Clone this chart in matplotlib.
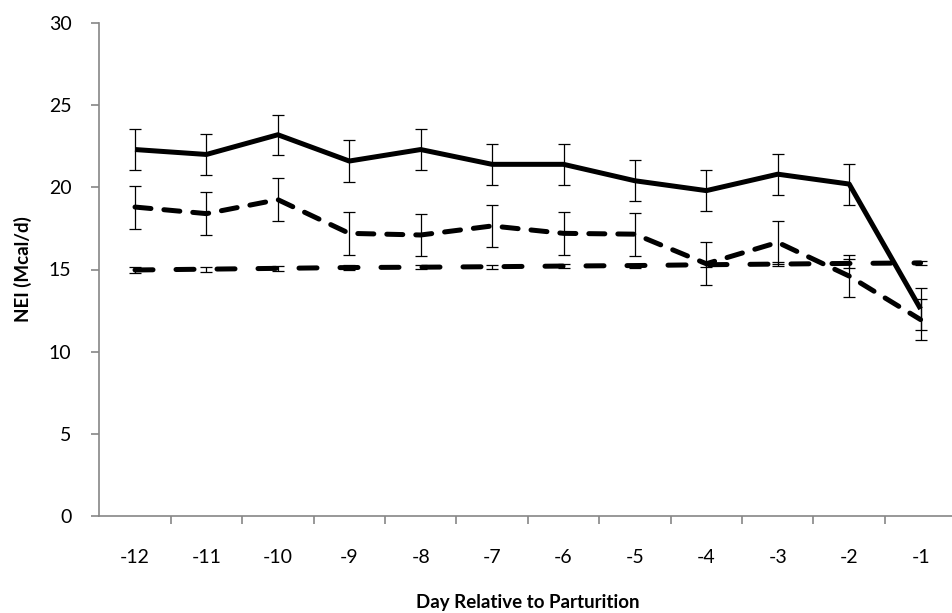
import numpy as np
import matplotlib.pyplot as plt

plt.rcParams['font.family'] = ['Lato', 'DejaVu Sans']
plt.rcParams['axes.unicode_minus'] = False

days = [-12, -11, -10, -9, -8, -7, -6, -5, -4, -3, -2, -1]

# solid line
nei_a = [22.3, 22.0, 23.2, 21.6, 22.3, 21.4, 21.4, 20.4, 19.8, 20.8, 20.2, 12.6]
se_a = [1.27, 1.25, 1.23, 1.27, 1.24, 1.26, 1.23, 1.25, 1.23, 1.24, 1.25, 1.28]
# short dash
nei_b = [18.8, 18.4, 19.25, 17.2, 17.1, 17.65, 17.2, 17.15, 15.35, 16.65, 14.6, 11.95]
se_b = [1.31, 1.3, 1.31, 1.3, 1.29, 1.3, 1.32, 1.3, 1.32, 1.3, 1.3, 1.27]
# long dash
nei_c = [14.97, 15.02, 15.07, 15.12, 15.14, 15.17, 15.21, 15.24, 15.29, 15.33, 15.37, 15.4]
se_c = [0.17, 0.16, 0.15, 0.14, 0.13, 0.13, 0.13, 0.12, 0.12, 0.13, 0.26, 0.14]

fig = plt.figure(figsize=(9.52, 6.13), dpi=100)
ax = fig.add_axes([99.3 / 952, 1 - 516 / 613, 857 / 952, 493 / 613])

x = np.array(days)
lw = 3.6

for y, se, style in [(nei_a, se_a, "solid"), (nei_b, se_b, "short"), (nei_c, se_c, "long")]:
    line, = ax.plot(x, y, color="black", lw=lw, solid_joinstyle="round",
                    dash_capstyle="round", solid_capstyle="butt", zorder=3)
    if style == "short":
        line.set_dashes([3.2, 2.6])
    elif style == "long":
        line.set_dashes([3.6, 4.6])
    ax.errorbar(x, y, yerr=se, fmt="none", ecolor="black", elinewidth=0.9,
                capsize=4, capthick=0.9, zorder=4)

ax.set_xlim(-12.5, -0.5)
ax.set_ylim(0, 30)
ax.set_yticks(range(0, 31, 5))
ax.set_xticks(days)
ax.set_xticks(np.arange(-11.5, 0, 1), minor=True)
ax.tick_params(axis="x", which="major", length=0, pad=24, labelsize=14)
ax.tick_params(axis="x", which="minor", length=6, width=1.2, color="#868686", direction="out")
ax.tick_params(axis="y", length=6, width=1.2, color="#868686", direction="out", labelsize=14, pad=14)

for s in ["top", "right"]:
    ax.spines[s].set_visible(False)
for s in ["left", "bottom"]:
    ax.spines[s].set_color("#868686")
    ax.spines[s].set_linewidth(1.2)

ax.set_xlabel("Day Relative to Parturition", fontsize=13.5, fontweight="bold", labelpad=20)
ax.set_ylabel("NEI (Mcal/d)", fontsize=13.5, fontweight="bold", labelpad=12)

fig.savefig("out.png", dpi=100)
